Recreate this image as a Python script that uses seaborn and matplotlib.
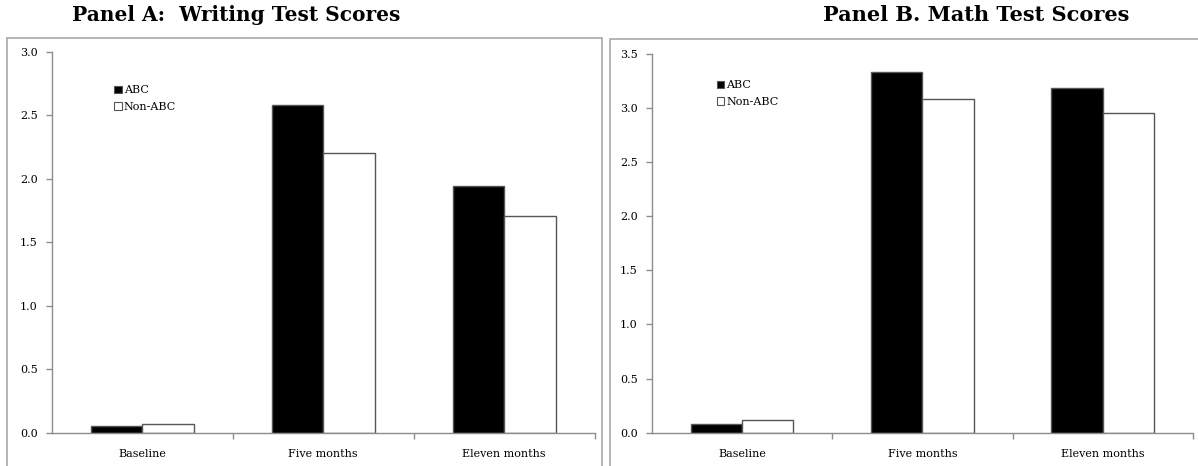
import matplotlib
matplotlib.use("Agg")
import matplotlib.pyplot as plt
from matplotlib.patches import Rectangle
import seaborn as sns
import pandas as pd

periods = ["Baseline", "Five months", "Eleven months"]
groups = ["ABC", "Non-ABC"]
writing_abc = [0.05, 2.58, 1.94]
writing_non = [0.065, 2.20, 1.71]
math_abc = [0.08, 3.33, 3.19]
math_non = [0.115, 3.08, 2.95]


def make_df(abc, non):
    rows = []
    for p, a, n in zip(periods, abc, non):
        rows.append({"period": p, "group": "ABC", "score": a})
        rows.append({"period": p, "group": "Non-ABC", "score": n})
    return pd.DataFrame(rows)


sns.set_style("white")
plt.rcParams["font.family"] = ["DejaVu Serif"]
plt.rcParams["text.color"] = "black"
plt.rcParams["xtick.color"] = "black"
plt.rcParams["ytick.color"] = "black"

fig = plt.figure(figsize=(11.98, 4.66), dpi=100)
axA = fig.add_axes([0.0432, 0.0715, 0.4532, 0.817])
axB = fig.add_axes([0.544, 0.0715, 0.4518, 0.8127])

grey = "#8c8c8c"
palette = {"ABC": "black", "Non-ABC": "white"}


def draw(ax, df, ymax, leg_anchor):
    sns.barplot(data=df, x="period", y="score", hue="group", palette=palette,
                hue_order=groups, order=periods, width=0.57,
                edgecolor="#555555", linewidth=1.0, ax=ax)
    ax.set_xlim(-0.5, 2.5)
    ax.set_ylim(0, ymax)
    n = int(round(ymax / 0.5)) + 1
    ax.set_yticks([i * 0.5 for i in range(n)])
    ax.set_yticklabels([f"{i * 0.5:.1f}" for i in range(n)])
    ax.set_xlabel("")
    ax.set_ylabel("")
    for s in ["top", "right"]:
        ax.spines[s].set_visible(False)
    for s in ["left", "bottom"]:
        ax.spines[s].set_color(grey)
        ax.spines[s].set_linewidth(1.0)
    ax.tick_params(axis="y", direction="out", length=4, color=grey, width=1,
                   labelsize=8, pad=6, left=True, labelcolor="black")
    ax.tick_params(axis="x", which="major", length=0, labelsize=8, pad=12,
                   labelcolor="black")
    ax.set_xticks([0.5, 1.5, 2.5], minor=True)
    ax.tick_params(axis="x", which="minor", direction="out", length=4,
                   color=grey, width=1, bottom=True)
    leg = ax.legend(loc="upper left", bbox_to_anchor=leg_anchor, frameon=False,
                    fontsize=8, handlelength=0.7, handleheight=0.7,
                    handletextpad=0.15, labelspacing=0.55, borderpad=0,
                    borderaxespad=0)
    for t in leg.get_texts():
        t.set_color("black")
    for h in leg.legend_handles:
        h.set_edgecolor("#555555")
        h.set_linewidth(0.8)


draw(axA, make_df(writing_abc, writing_non), 3.0, (0.115, 0.912))
draw(axB, make_df(math_abc, math_non), 3.5, (0.12, 0.93))

# panel frames
fig.patches.append(Rectangle((0.0058, -0.02), 0.4967, 0.9385, transform=fig.transFigure,
                             fill=False, edgecolor="#a8a8a8", linewidth=1.2))
fig.patches.append(Rectangle((0.509, -0.02), 0.5, 0.9363, transform=fig.transFigure,
                             fill=False, edgecolor="#a8a8a8", linewidth=1.2))

fig.text(0.197, 0.968, "Panel A:  Writing Test Scores", ha="center", va="center",
         fontsize=14.5, fontweight="bold", color="black")
fig.text(0.815, 0.968, "Panel B. Math Test Scores", ha="center", va="center",
         fontsize=15, fontweight="bold", color="black")

fig.savefig("out.png", dpi=100)
